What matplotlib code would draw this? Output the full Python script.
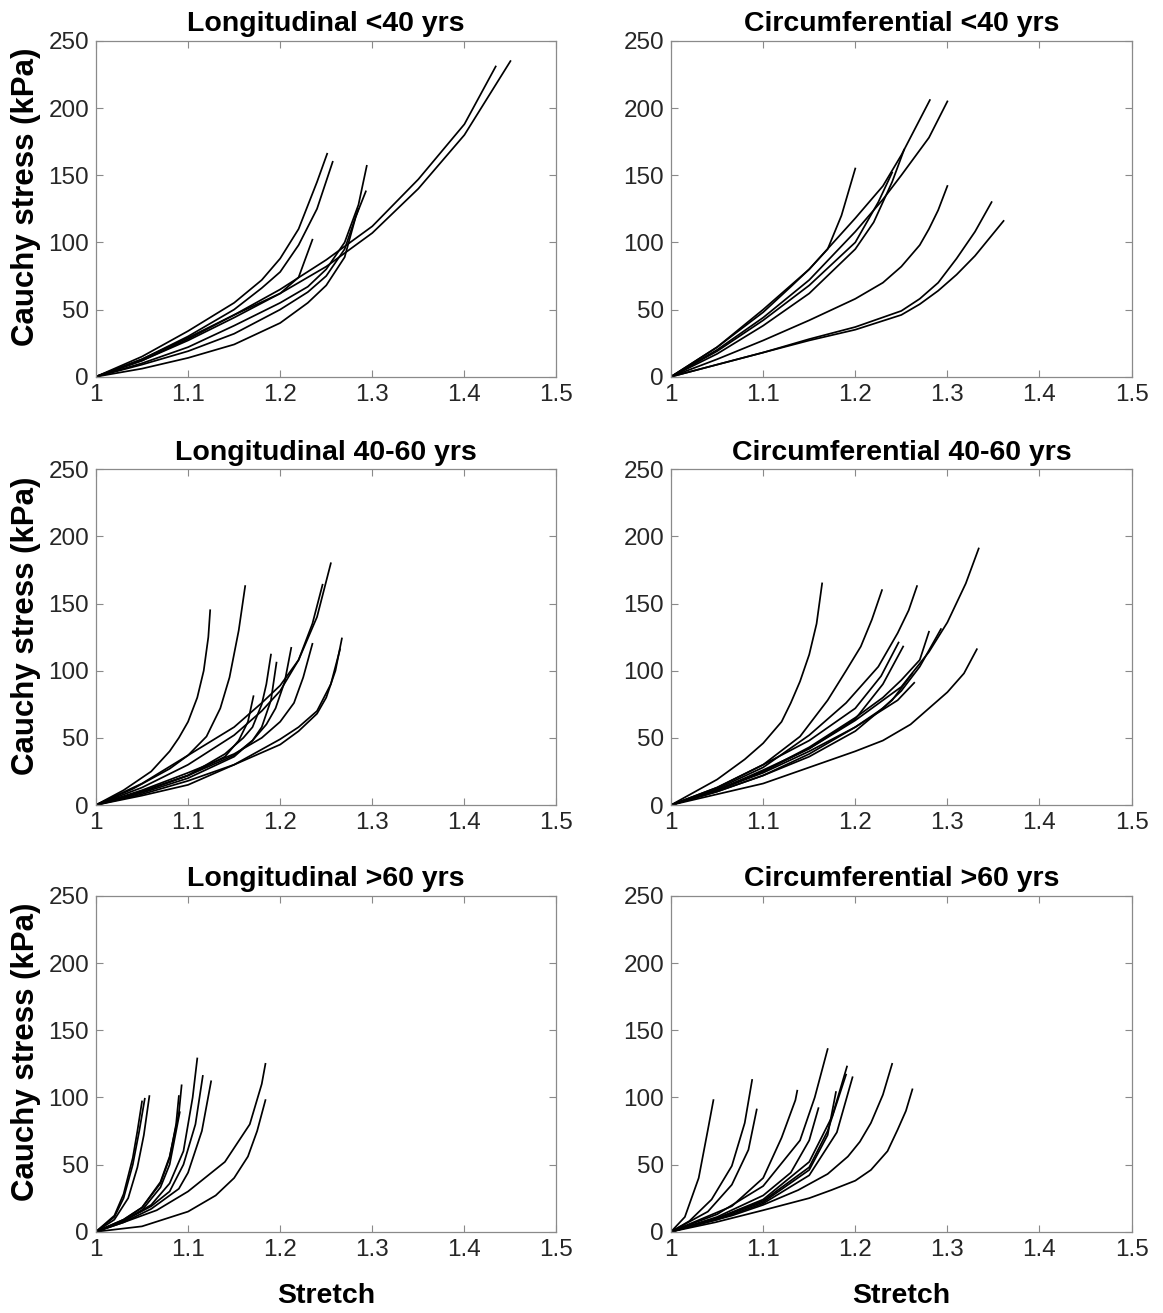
import matplotlib
matplotlib.use('Agg')
import matplotlib.pyplot as plt

plt.rcParams['font.family'] = ['Liberation Sans', 'DejaVu Sans']

# each curve: (stretch list, stress list in kPa)
long_lt40 = [
    ([1.0, 1.05, 1.10, 1.15, 1.20, 1.25, 1.30, 1.35, 1.40, 1.45], [0, 12, 27, 44, 62, 82, 107, 140, 180, 235]),
    ([1.0, 1.05, 1.10, 1.15, 1.20, 1.25, 1.30, 1.35, 1.40, 1.434], [0, 13, 29, 46, 65, 87, 112, 147, 188, 231]),
    ([1.0, 1.05, 1.10, 1.15, 1.18, 1.20, 1.22, 1.24, 1.251], [0, 15, 34, 55, 72, 88, 110, 145, 166]),
    ([1.0, 1.05, 1.10, 1.15, 1.18, 1.20, 1.22, 1.24, 1.257], [0, 13, 30, 50, 66, 78, 98, 125, 160]),
    ([1.0, 1.05, 1.10, 1.15, 1.20, 1.22, 1.235], [0, 12, 28, 46, 62, 74, 102]),
    ([1.0, 1.05, 1.10, 1.15, 1.20, 1.23, 1.25, 1.27, 1.285, 1.294], [0, 10, 22, 38, 55, 67, 80, 100, 128, 157]),
    ([1.0, 1.05, 1.10, 1.15, 1.20, 1.23, 1.25, 1.27, 1.282, 1.293], [0, 6, 14, 24, 40, 55, 68, 89, 119, 138]),
    ([1.0, 1.05, 1.10, 1.15, 1.20, 1.23, 1.25, 1.27, 1.285], [0, 9, 19, 32, 50, 63, 75, 95, 125]),
]
circ_lt40 = [
    ([1.0, 1.05, 1.10, 1.13, 1.15, 1.17, 1.185, 1.20], [0, 22, 48, 67, 80, 95, 120, 155]),
    ([1.0, 1.05, 1.10, 1.15, 1.20, 1.23, 1.25, 1.281], [0, 22, 50, 80, 118, 142, 165, 206]),
    ([1.0, 1.05, 1.10, 1.15, 1.20, 1.23, 1.25, 1.28, 1.30], [0, 20, 44, 72, 108, 132, 150, 178, 205]),
    ([1.0, 1.05, 1.10, 1.15, 1.20, 1.22, 1.24, 1.253], [0, 17, 38, 62, 95, 115, 145, 169]),
    ([1.0, 1.05, 1.10, 1.15, 1.20, 1.225, 1.24], [0, 19, 42, 68, 100, 130, 152]),
    ([1.0, 1.05, 1.10, 1.15, 1.20, 1.23, 1.25, 1.27, 1.28, 1.29, 1.30], [0, 13, 27, 42, 58, 70, 82, 98, 110, 124, 142]),
    ([1.0, 1.05, 1.10, 1.15, 1.20, 1.25, 1.27, 1.29, 1.31, 1.33, 1.348], [0, 9, 18, 28, 37, 49, 58, 70, 88, 108, 130]),
    ([1.0, 1.05, 1.10, 1.15, 1.20, 1.25, 1.27, 1.29, 1.31, 1.33, 1.361], [0, 9, 18, 27, 35, 46, 54, 64, 76, 90, 116]),
]
long_40_60 = [
    ([1.0, 1.03, 1.06, 1.08, 1.09, 1.10, 1.11, 1.117, 1.122, 1.124], [0, 11, 25, 40, 50, 62, 80, 100, 125, 145]),
    ([1.0, 1.04, 1.08, 1.10, 1.12, 1.135, 1.145, 1.155, 1.162], [0, 12, 27, 37, 51, 72, 95, 130, 163]),
    ([1.0, 1.05, 1.10, 1.15, 1.18, 1.20, 1.22, 1.24, 1.255], [0, 16, 37, 58, 76, 89, 108, 140, 180]),
    ([1.0, 1.05, 1.10, 1.15, 1.18, 1.20, 1.22, 1.235, 1.246], [0, 13, 30, 52, 70, 85, 108, 135, 164]),
    ([1.0, 1.05, 1.10, 1.15, 1.20, 1.22, 1.24, 1.25, 1.26, 1.267], [0, 8, 18, 30, 45, 55, 68, 80, 100, 124]),
    ([1.0, 1.05, 1.10, 1.15, 1.20, 1.22, 1.24, 1.255, 1.265], [0, 7, 15, 30, 49, 58, 70, 90, 116]),
    ([1.0, 1.05, 1.10, 1.15, 1.18, 1.20, 1.215, 1.225, 1.235], [0, 11, 24, 38, 50, 62, 76, 95, 120]),
    ([1.0, 1.05, 1.10, 1.15, 1.17, 1.185, 1.195, 1.205, 1.212], [0, 10, 22, 37, 48, 60, 72, 92, 117]),
    ([1.0, 1.05, 1.10, 1.14, 1.16, 1.17, 1.18, 1.185, 1.19], [0, 10, 22, 38, 50, 58, 75, 90, 112]),
    ([1.0, 1.05, 1.10, 1.15, 1.17, 1.18, 1.19, 1.196], [0, 9, 20, 36, 48, 58, 78, 106]),
    ([1.0, 1.05, 1.10, 1.14, 1.155, 1.165, 1.171], [0, 10, 22, 36, 48, 62, 81]),
]
circ_40_60 = [
    ([1.0, 1.05, 1.08, 1.10, 1.12, 1.13, 1.14, 1.15, 1.158, 1.164], [0, 19, 34, 46, 62, 76, 92, 112, 135, 165]),
    ([1.0, 1.05, 1.10, 1.14, 1.17, 1.19, 1.206, 1.218, 1.229], [0, 13, 30, 51, 78, 100, 118, 138, 160]),
    ([1.0, 1.05, 1.10, 1.15, 1.19, 1.225, 1.246, 1.258, 1.267], [0, 12, 28, 52, 76, 103, 128, 145, 163]),
    ([1.0, 1.05, 1.10, 1.15, 1.20, 1.25, 1.28, 1.30, 1.32, 1.334], [0, 11, 25, 42, 63, 88, 114, 136, 165, 191]),
    ([1.0, 1.05, 1.10, 1.15, 1.20, 1.23, 1.26, 1.28, 1.30, 1.318, 1.332], [0, 8, 16, 28, 40, 48, 60, 72, 84, 98, 116]),
    ([1.0, 1.05, 1.10, 1.15, 1.20, 1.23, 1.25, 1.27, 1.293], [0, 10, 22, 38, 58, 72, 85, 103, 131]),
    ([1.0, 1.05, 1.10, 1.15, 1.20, 1.23, 1.25, 1.27, 1.28], [0, 11, 25, 43, 65, 80, 93, 108, 129]),
    ([1.0, 1.05, 1.10, 1.15, 1.20, 1.228, 1.247], [0, 13, 30, 48, 72, 96, 121]),
    ([1.0, 1.05, 1.10, 1.15, 1.20, 1.23, 1.252], [0, 11, 26, 42, 64, 90, 118]),
    ([1.0, 1.05, 1.10, 1.15, 1.20, 1.246, 1.264], [0, 11, 24, 40, 58, 78, 91]),
    ([1.0, 1.05, 1.10, 1.15, 1.20, 1.24, 1.262], [0, 10, 22, 36, 55, 78, 98]),
]
long_gt60 = [
    ([1.0, 1.02, 1.03, 1.04, 1.045, 1.05], [0, 12, 28, 55, 75, 97]),
    ([1.0, 1.02, 1.03, 1.04, 1.047, 1.053], [0, 11, 25, 50, 75, 99]),
    ([1.0, 1.02, 1.035, 1.045, 1.052, 1.058], [0, 9, 25, 48, 72, 101]),
    ([1.0, 1.03, 1.05, 1.07, 1.08, 1.09, 1.093], [0, 9, 18, 37, 56, 88, 109]),
    ([1.0, 1.03, 1.05, 1.07, 1.08, 1.087, 1.09], [0, 9, 18, 36, 55, 80, 101]),
    ([1.0, 1.03, 1.05, 1.07, 1.08, 1.091], [0, 8, 16, 33, 50, 89]),
    ([1.0, 1.03, 1.06, 1.08, 1.095, 1.105, 1.11], [0, 8, 20, 36, 60, 100, 129]),
    ([1.0, 1.03, 1.06, 1.08, 1.095, 1.108, 1.116], [0, 8, 19, 30, 50, 80, 116]),
    ([1.0, 1.03, 1.06, 1.09, 1.10, 1.115, 1.125], [0, 7, 17, 32, 44, 75, 112]),
    ([1.0, 1.03, 1.066, 1.10, 1.14, 1.167, 1.18, 1.184], [0, 7, 16, 30, 52, 80, 110, 125]),
    ([1.0, 1.05, 1.10, 1.13, 1.15, 1.165, 1.175, 1.184], [0, 4, 15, 27, 40, 56, 75, 98]),
]
circ_gt60 = [
    ([1.0, 1.015, 1.03, 1.04, 1.046], [0, 11, 40, 76, 98]),
    ([1.0, 1.02, 1.044, 1.066, 1.08, 1.088], [0, 8, 24, 49, 81, 113]),
    ([1.0, 1.04, 1.066, 1.084, 1.093], [0, 15, 35, 61, 91]),
    ([1.0, 1.066, 1.10, 1.12, 1.135, 1.137], [0, 19, 40, 70, 98, 105]),
    ([1.0, 1.05, 1.10, 1.14, 1.156, 1.17], [0, 13, 34, 68, 100, 136]),
    ([1.0, 1.05, 1.10, 1.13, 1.15, 1.16], [0, 11, 27, 44, 68, 92]),
    ([1.0, 1.05, 1.10, 1.15, 1.175, 1.191], [0, 10, 24, 52, 86, 123]),
    ([1.0, 1.05, 1.10, 1.15, 1.17, 1.19], [0, 10, 23, 48, 75, 117]),
    ([1.0, 1.05, 1.10, 1.15, 1.18, 1.197], [0, 9, 21, 42, 74, 115]),
    ([1.0, 1.05, 1.10, 1.15, 1.17, 1.179], [0, 10, 22, 46, 72, 104]),
    ([1.0, 1.066, 1.10, 1.138, 1.17, 1.192, 1.205, 1.217, 1.23, 1.24], [0, 12, 20, 31, 43, 56, 67, 81, 102, 125]),
    ([1.0, 1.048, 1.10, 1.15, 1.174, 1.20, 1.217, 1.235, 1.246, 1.255, 1.262], [0, 7, 16, 25, 31, 38, 46, 60, 76, 90, 106]),
]

titles = ['Longitudinal <40 yrs', 'Circumferential <40 yrs',
          'Longitudinal 40-60 yrs', 'Circumferential 40-60 yrs',
          'Longitudinal >60 yrs', 'Circumferential >60 yrs']
groups = [long_lt40, circ_lt40, long_40_60, circ_40_60, long_gt60, circ_gt60]
xticks = [1, 1.1, 1.2, 1.3, 1.4, 1.5]
xticklabels = ['1', '1.1', '1.2', '1.3', '1.4', '1.5']
yticks = [0, 50, 100, 150, 200, 250]

fig = plt.figure(figsize=(11.63, 13.13), dpi=100)
lefts = [0.0825, 0.577]
bottoms = [0.7131, 0.3869, 0.0619]
w, h = 0.396, 0.2557

for i in range(6):
    r, c = i // 2, i % 2
    ax = fig.add_axes([lefts[c], bottoms[r], w, h])
    for x, y in groups[i]:
        ax.plot(x, y, color='black', lw=1.25)
    ax.set_xlim(1, 1.5)
    ax.set_ylim(0, 250)
    ax.set_xticks(xticks)
    ax.set_xticklabels(xticklabels)
    ax.set_yticks(yticks)
    ax.tick_params(direction='in', top=True, right=True, length=5, width=0.8,
                   colors='#8a8a8a', labelcolor='#262626', labelsize=17.5, pad=5)
    for s in ax.spines.values():
        s.set_color('#8a8a8a')
        s.set_linewidth(0.9)
    ax.set_title(titles[i], fontsize=20.5, fontweight='bold', pad=7)
    if c == 0:
        ax.set_ylabel('Cauchy stress (kPa)', fontsize=22.5, fontweight='bold')
        ax.yaxis.set_label_coords(-0.12, 0.535)
    if r == 2:
        ax.set_xlabel('Stretch', fontsize=20.5, fontweight='bold', labelpad=16)

fig.savefig('out.png', dpi=100)
